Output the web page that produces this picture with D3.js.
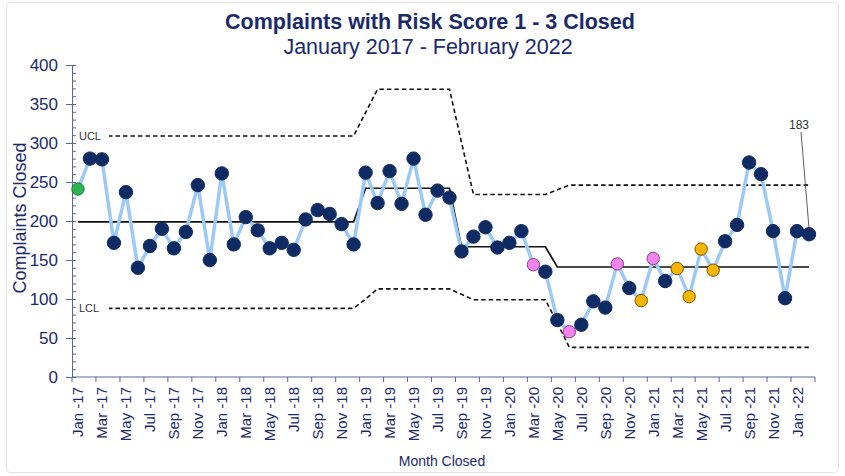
<!DOCTYPE html>
<html>
<head>
<meta charset="utf-8">
<script src="https://cdn.jsdelivr.net/npm/d3@7"></script>
<style>
  body { margin: 0; background: #fff; }
  svg { font-family: "Liberation Sans", Arial, sans-serif; }
</style>
</head>
<body>
<div id="chart"></div>
<script>
// Month categories (Jan 2017 - Feb 2022)
const months = [
  'Jan -17','Feb -17','Mar -17','Apr -17','May -17','Jun -17','Jul -17','Aug -17','Sep -17','Oct -17','Nov -17','Dec -17',
  'Jan -18','Feb -18','Mar -18','Apr -18','May -18','Jun -18','Jul -18','Aug -18','Sep -18','Oct -18','Nov -18','Dec -18',
  'Jan -19','Feb -19','Mar -19','Apr -19','May -19','Jun -19','Jul -19','Aug -19','Sep -19','Oct -19','Nov -19','Dec -19',
  'Jan -20','Feb -20','Mar -20','Apr -20','May -20','Jun -20','Jul -20','Aug -20','Sep -20','Oct -20','Nov -20','Dec -20',
  'Jan -21','Feb -21','Mar -21','Apr -21','May -21','Jun -21','Jul -21','Aug -21','Sep -21','Oct -21','Nov -21','Dec -21',
  'Jan -22','Feb -22'
];

// Complaints closed per month
const closed = [
  241, 280, 279, 172, 237, 140, 168, 190, 165, 186, 246, 150,
  261, 170, 205, 188, 165, 172, 163, 202, 214, 209, 196, 170,
  262, 223, 264, 222, 280, 208, 239, 230, 161, 180, 192, 166,
  172, 187, 144, 135, 73, 58, 67, 97, 89, 145, 114, 98,
  152, 123, 139, 103, 164, 137, 174, 195, 275, 260, 187, 101,
  187, 183
];

// Centre line and control limits per month
const centre = [
  199, 199, 199, 199, 199, 199, 199, 199, 199, 199, 199, 199,
  199, 199, 199, 199, 199, 199, 199, 199, 199, 199, 199, 199,
  242, 242, 242, 242, 242, 242, 242, 242, 167, 167, 167, 167,
  167, 167, 167, 167, 141, 141, 141, 141, 141, 141, 141, 141,
  141, 141, 141, 141, 141, 141, 141, 141, 141, 141, 141, 141,
  141, 141
];
const ucl = [
  309, 309, 309, 309, 309, 309, 309, 309, 309, 309, 309, 309,
  309, 309, 309, 309, 309, 309, 309, 309, 309, 309, 309, 309,
  339, 369, 369, 369, 369, 369, 369, 369, 301, 234, 234, 234,
  234, 234, 234, 234, 240, 246, 246, 246, 246, 246, 246, 246,
  246, 246, 246, 246, 246, 246, 246, 246, 246, 246, 246, 246,
  246, 246
];
const lcl = [
  88, 88, 88, 88, 88, 88, 88, 88, 88, 88, 88, 88,
  88, 88, 88, 88, 88, 88, 88, 88, 88, 88, 88, 88,
  100, 113, 113, 113, 113, 113, 113, 113, 106, 99, 99, 99,
  99, 99, 99, 99, 69, 38, 38, 38, 38, 38, 38, 38,
  38, 38, 38, 38, 38, 38, 38, 38, 38, 38, 38, 38,
  38, 38
];

// Highlighted points
const greenMonths = ['Jan -17'];
const pinkMonths = ['Mar -20', 'Jun -20', 'Oct -20', 'Jan -21'];
const orangeMonths = ['Dec -20', 'Mar -21', 'Apr -21', 'May -21', 'Jun -21'];

const yTicks = [0, 50, 100, 150, 200, 250, 300, 350, 400];

const W = 845, H = 476;
const margin = { top: 65, right: 30, bottom: 99, left: 72 };
const width = 815 - margin.left;
const height = 377 - margin.top;
const navy = '#1b2a6b';

const svg = d3.select('#chart')
  .append('svg')
  .attr('width', W)
  .attr('height', H);

// light frame
svg.append('rect')
  .attr('x', 6.5).attr('y', 2.5)
  .attr('width', 832).attr('height', 470)
  .attr('rx', 4)
  .attr('fill', 'none')
  .attr('stroke', '#e2e2e2');

// Titles
svg.append('text')
  .attr('x', 430).attr('y', 29)
  .attr('text-anchor', 'middle')
  .attr('font-size', 21.5).attr('font-weight', 'bold')
  .attr('fill', navy)
  .text('Complaints with Risk Score 1 - 3 Closed');
svg.append('text')
  .attr('x', 428).attr('y', 54)
  .attr('text-anchor', 'middle')
  .attr('font-size', 21.5)
  .attr('fill', navy)
  .text('January 2017 - February 2022');

const g = svg.append('g')
  .attr('transform', 'translate(' + margin.left + ',' + margin.top + ')');

const xScale = d3.scaleBand()
  .domain(months)
  .range([0, width])
  .padding(0);

const yScale = d3.scaleLinear()
  .domain([0, 400])
  .range([height, 0]);

const xc = d => xScale(d) + xScale.bandwidth() / 2;

// Y axis: minor ticks inside, major ticks outside
g.append('g')
  .call(d3.axisLeft(yScale).ticks(40).tickSize(-4).tickFormat(''))
  .call(a => a.select('.domain').remove())
  .selectAll('line').attr('stroke', '#5a6496');
const yAxis = g.append('g')
  .call(d3.axisLeft(yScale).tickValues(yTicks).tickSizeOuter(0).tickSizeInner(6).tickPadding(8));
yAxis.select('.domain').attr('stroke', '#5a6496');
yAxis.selectAll('line').attr('stroke', '#5a6496').attr('x2', 4).attr('x1', -6);
yAxis.selectAll('text').attr('font-size', 17).attr('fill', navy)
  .attr('font-family', '"Liberation Sans", Arial, sans-serif');

// X axis: category labels every second month, ticks on band edges
const xAxis = g.append('g')
  .attr('transform', 'translate(0,' + height + ')');
xAxis.append('line')
  .attr('x1', 0).attr('x2', width)
  .attr('stroke', '#5a6496');
xAxis.selectAll('.xtick')
  .data(months.filter((m, i) => i % 2 === 0).concat(['end']))
  .enter()
  .append('line')
  .attr('class', 'xtick')
  .attr('x1', d => d === 'end' ? width : xScale(d))
  .attr('x2', d => d === 'end' ? width : xScale(d))
  .attr('y1', 0).attr('y2', 5)
  .attr('stroke', '#5a6496');
xAxis.selectAll('.xlabel')
  .data(months.filter((m, i) => i % 2 === 0))
  .enter()
  .append('text')
  .attr('class', 'xlabel')
  .attr('transform', d => 'translate(' + (xc(d) + 5.5) + ',10) rotate(-90)')
  .attr('text-anchor', 'end')
  .attr('font-size', 15)
  .attr('fill', navy)
  .text(d => d);

// Axis titles
svg.append('text')
  .attr('transform', 'translate(26,218) rotate(-90)')
  .attr('text-anchor', 'middle')
  .attr('font-size', 18)
  .attr('fill', navy)
  .text('Complaints Closed');
svg.append('text')
  .attr('x', 442).attr('y', 466)
  .attr('text-anchor', 'middle')
  .attr('font-size', 14)
  .attr('fill', navy)
  .text('Month Closed');

// Control limit lines
const limitLine = arr => d3.line()
  .x((d, i) => xc(months[i]))
  .y(d => yScale(d))(arr);

g.append('path')
  .attr('d', limitLine(ucl))
  .attr('fill', 'none').attr('stroke', '#111')
  .attr('stroke-width', 1.6).attr('stroke-dasharray', '4.5,3');
g.append('path')
  .attr('d', limitLine(lcl))
  .attr('fill', 'none').attr('stroke', '#111')
  .attr('stroke-width', 1.6).attr('stroke-dasharray', '4.5,3');
g.append('path')
  .attr('d', limitLine(centre))
  .attr('fill', 'none').attr('stroke', '#111')
  .attr('stroke-width', 1.7);

// UCL / LCL labels
[['UCL', ucl[0]], ['LCL', lcl[0]]].forEach(function(l) {
  g.append('rect')
    .attr('x', xc(months[0]) - 1).attr('y', yScale(l[1]) - 7)
    .attr('width', 32).attr('height', 14)
    .attr('fill', '#fff');
  g.append('text')
    .attr('x', xc(months[0]) + 1).attr('y', yScale(l[1]) + 4)
    .attr('font-size', 11)
    .attr('fill', '#333')
    .text(l[0]);
});

// Data line
g.append('path')
  .attr('d', d3.line()
    .x((d, i) => xc(months[i]))
    .y(d => yScale(d))(closed))
  .attr('fill', 'none')
  .attr('stroke', '#9ccaf6')
  .attr('stroke-width', 3.5)
  .attr('stroke-linejoin', 'round');

// Points
function pointFill(m) {
  if (greenMonths.includes(m)) return '#2db34f';
  if (pinkMonths.includes(m)) return '#f384ef';
  if (orangeMonths.includes(m)) return '#f7b500';
  return '#0f2b63';
}
function pointStroke(m) {
  if (greenMonths.includes(m)) return '#1d7d36';
  if (pinkMonths.includes(m)) return '#8a3c99';
  if (orangeMonths.includes(m)) return '#7a5200';
  return '#0f2b63';
}
g.selectAll('.pt')
  .data(closed)
  .enter()
  .append('circle')
  .attr('class', 'pt')
  .attr('cx', (d, i) => xc(months[i]))
  .attr('cy', d => yScale(d))
  .attr('r', (d, i) => pointFill(months[i]) === '#0f2b63' ? 6.7 : 6.2)
  .attr('fill', (d, i) => pointFill(months[i]))
  .attr('stroke', (d, i) => pointStroke(months[i]))
  .attr('stroke-width', 1);

// Last value callout
const lastIdx = closed.length - 1;
g.append('line')
  .attr('x1', xc(months[lastIdx]) - 8).attr('y1', 67)
  .attr('x2', xc(months[lastIdx])).attr('y2', yScale(closed[lastIdx]) - 6)
  .attr('stroke', '#333').attr('stroke-width', 0.8);
g.append('text')
  .attr('x', xc(months[lastIdx]) - 10).attr('y', 64)
  .attr('text-anchor', 'middle')
  .attr('font-size', 12)
  .attr('fill', '#333')
  .text(closed[lastIdx]);
</script>
</body>
</html>
